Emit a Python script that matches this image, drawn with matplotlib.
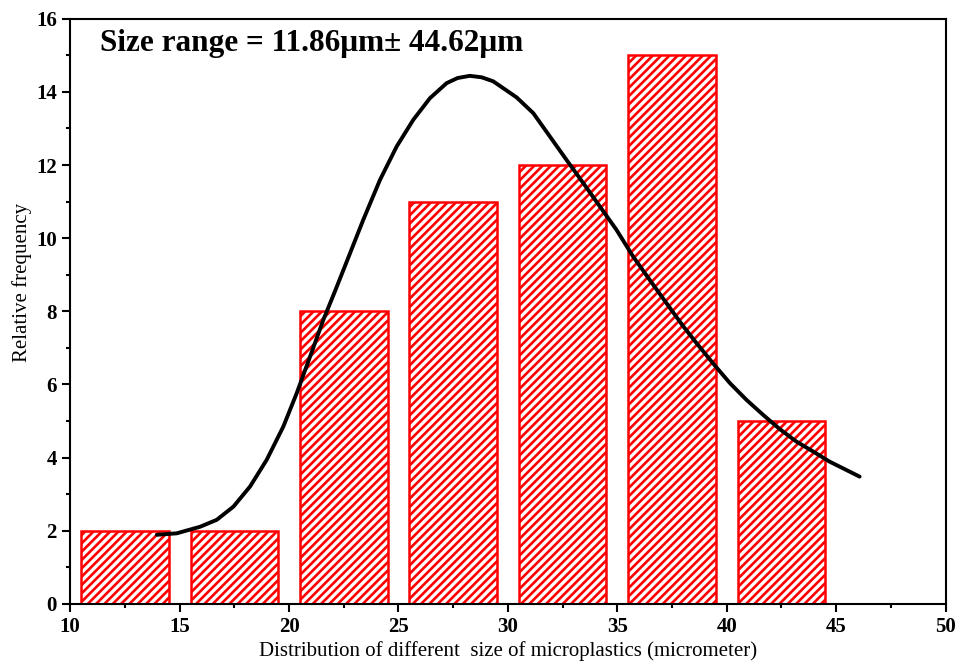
import numpy as np
import matplotlib
matplotlib.use('Agg')
import matplotlib.pyplot as plt
from matplotlib.ticker import MultipleLocator

# histogram bins (micrometer) and counts
bin_centers = [12.5, 17.5, 22.5, 27.5, 32.5, 37.5, 42.5]
counts = [2, 2, 8, 11, 12, 15, 5]

# fitted distribution curve
curve_x = [13.96, 14.87, 15.94, 16.70, 17.46, 18.22, 18.98, 19.74, 20.35,
           20.96, 21.57, 22.10, 22.63, 23.39, 24.16, 24.92, 25.68, 26.44,
           27.20, 27.70, 28.26, 28.80, 29.33, 30.40, 31.16, 31.92, 32.68,
           33.44, 34.20, 34.96, 35.72, 36.48, 37.25, 38.00, 38.62, 39.37,
           40.14, 40.90, 41.66, 42.42, 43.18, 43.94, 44.70, 45.47, 46.07]
curve_y = [1.89, 1.93, 2.11, 2.30, 2.66, 3.21, 3.94, 4.85, 5.76,
           6.76, 7.77, 8.55, 9.35, 10.50, 11.60, 12.51, 13.24, 13.83,
           14.24, 14.38, 14.44, 14.40, 14.29, 13.85, 13.42, 12.78, 12.14,
           11.51, 10.87, 10.23, 9.50, 8.86, 8.22, 7.60, 7.13, 6.58,
           6.04, 5.58, 5.17, 4.78, 4.44, 4.17, 3.89, 3.66, 3.48]

plt.rcParams['font.family'] = ['Liberation Serif', 'DejaVu Serif']
plt.rcParams['hatch.linewidth'] = 1.9
plt.rcParams['hatch.color'] = 'red'

fig = plt.figure(figsize=(9.61, 6.71), dpi=100)
ax = fig.add_axes([0.073, 0.1, 0.911, 0.872])

ax.bar(bin_centers, counts, width=4, facecolor='white', edgecolor='red',
       linewidth=1.8, hatch='////', zorder=2)
ax.plot(curve_x, curve_y, color='black', linewidth=2.8, zorder=3,
        solid_capstyle='round', solid_joinstyle='round')

ax.set_xlim(10, 50)
ax.set_ylim(0, 16)
ax.xaxis.set_major_locator(MultipleLocator(5))
ax.xaxis.set_minor_locator(MultipleLocator(2.5))
ax.yaxis.set_major_locator(MultipleLocator(2))
ax.yaxis.set_minor_locator(MultipleLocator(1))
ax.tick_params(which='both', direction='out', width=1.5, top=False, right=False)
ax.tick_params(which='major', length=6, labelsize=15)
ax.tick_params(which='minor', length=3)
for lab in ax.get_xticklabels() + ax.get_yticklabels():
    lab.set_fontweight('bold')
for s in ax.spines.values():
    s.set_linewidth(1.5)

ax.set_xlabel('Distribution of different  size of microplastics (micrometer)',
              fontsize=15, labelpad=3)
ax.set_ylabel('Relative frequency', fontsize=15)
ax.yaxis.set_label_coords(-0.044, 0.549)
ax.text(11.37, 15.32, 'Size range = 11.86\u03bcm\u00b1 44.62\u03bcm',
        fontsize=22.5, fontweight='bold', va='center')

fig.savefig('out.png', dpi=100)
